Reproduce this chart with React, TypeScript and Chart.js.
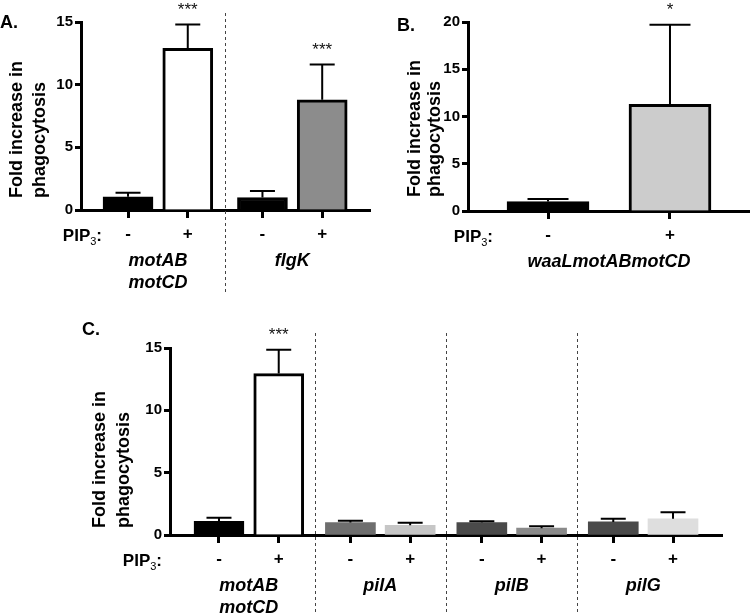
import React, { useEffect, useRef } from 'react';
import { Chart, registerables } from 'chart.js';

Chart.register(...registerables);

const FONT = '"Liberation Sans", Arial, Helvetica, sans-serif';

// PIP3 treatment per bar within each strain group
const SIGNS = ['-', '+'];

// Panel A
const A_GENES = [['motAB', 'motCD'], ['flgK']];
const A_MEANS = [1.05, 12.9, 1.0, 8.8];
const A_SEM = [0.33, 1.9, 0.52, 2.8];
const A_FILLS = ['#000000', '#ffffff', '#000000', '#8c8c8c'];
const A_BORDERS = [3, 3, 3, 3];
const A_STARS = ['', '***', '', '***'];
const A_Y_MAX = 15;

// Panel B
const B_GENES = [['waaLmotABmotCD']];
const B_MEANS = [1.0, 11.3];
const B_SEM = [0.27, 8.4];
const B_FILLS = ['#000000', '#cccccc'];
const B_BORDERS = [3, 3];
const B_STARS = ['', '*'];
const B_Y_MAX = 20;

// Panel C
const C_GENES = [['motAB', 'motCD'], ['pilA'], ['pilB'], ['pilG']];
const C_MEANS = [1.1, 12.95, 1.0, 0.78, 1.0, 0.55, 1.05, 1.3];
const C_SEM = [0.28, 1.9, 0.15, 0.2, 0.1, 0.15, 0.25, 0.52];
const C_FILLS = ['#000000', '#ffffff', '#6e6e6e', '#c6c6c6', '#4a4a4a', '#8a8a8a', '#4a4a4a', '#dedede'];
const C_BORDERS = [3, 3, 0, 0, 0, 0, 0, 0];
const C_STARS = ['', '***', '', '', '', '', '', ''];
const C_Y_MAX = 15;

const Y_STEP = 5;
const Y_TITLE = ['Fold increase in', 'phagocytosis'];

type PanelCfg = {
  letter: string;
  genes: string[][];
  means: number[];
  sem: number[];
  fills: string[];
  borders: number[];
  stars: string[];
  yMax: number;
  groupStep: number;
  xMin: number;
  xMax: number;
  barThickness: number;
  left: number;
  top: number;
  w: number;
  h: number;
  pad: { top: number; right: number };
  yWidth: number;
  xHeight: number;
  letterX: number;
  letterY: number;
  titleX: number[];
  titleBottom: number;
  pipRight: number;
  dividerTop: number;
  dividerBottom: number;
};

const PANELS: PanelCfg[] = [
  {
    letter: 'A.', genes: A_GENES, means: A_MEANS, sem: A_SEM, fills: A_FILLS, borders: A_BORDERS,
    stars: A_STARS, yMax: A_Y_MAX, groupStep: 2.25, xMin: -0.787, xMax: 4.05, barThickness: 50,
    left: 0, top: 0, w: 375, h: 300, pad: { top: 22, right: 5 }, yWidth: 81, xHeight: 90,
    letterX: 0, letterY: 23, titleX: [17, 40], titleBottom: 198, pipRight: 102, dividerTop: 13, dividerBottom: 292,
  },
  {
    letter: 'B.', genes: B_GENES, means: B_MEANS, sem: B_SEM, fills: B_FILLS, borders: B_BORDERS,
    stars: B_STARS, yMax: B_Y_MAX, groupStep: 2.2, xMin: -0.656, xMax: 1.656, barThickness: 82,
    left: 375, top: 0, w: 375, h: 300, pad: { top: 22, right: 0 }, yWidth: 93, xHeight: 89,
    letterX: 22, letterY: 26, titleX: [40, 60], titleBottom: 197, pipRight: 118, dividerTop: 13, dividerBottom: 292,
  },
  {
    letter: 'C.', genes: C_GENES, means: C_MEANS, sem: C_SEM, fills: C_FILLS, borders: C_BORDERS,
    stars: C_STARS, yMax: C_Y_MAX, groupStep: 2.2, xMin: -0.82, xMax: 8.42, barThickness: 50,
    left: 0, top: 300, w: 750, h: 315, pad: { top: 48, right: 28 }, yWidth: 170, xHeight: 80,
    letterX: 82, letterY: 30, titleX: [100, 124], titleBottom: 228, pipRight: 162, dividerTop: 33, dividerBottom: 315,
  },
];

function Panel({ cfg }: { cfg: PanelCfg }) {
  const ref = useRef<HTMLCanvasElement>(null);

  useEffect(() => {
    const positions: number[] = [];
    const signLabels: string[] = [];
    cfg.genes.forEach((_, gi) => {
      SIGNS.forEach((s, si) => {
        positions.push(gi * cfg.groupStep + si);
        signLabels.push(s);
      });
    });
    const points = cfg.means.map((m, i) => ({ x: positions[i], y: m }));

    const annot = {
      id: 'annot',
      afterDatasetsDraw(chart: any) {
        const ctx = chart.ctx;
        const y = chart.scales.y;
        const meta = chart.getDatasetMeta(0);
        ctx.save();
        meta.data.forEach((el: any, i: number) => {
          const p = el.getProps(['x', 'y', 'width'], true);
          const top = y.getPixelForValue(cfg.means[i] + cfg.sem[i]);
          ctx.strokeStyle = '#000';
          ctx.lineWidth = 2;
          ctx.beginPath();
          ctx.moveTo(p.x, p.y);
          ctx.lineTo(p.x, top);
          ctx.moveTo(p.x - p.width / 4, top);
          ctx.lineTo(p.x + p.width / 4, top);
          ctx.stroke();
          if (cfg.stars[i]) {
            ctx.fillStyle = '#111';
            ctx.font = `17px ${FONT}`;
            ctx.textAlign = 'center';
            ctx.textBaseline = 'alphabetic';
            ctx.fillText(cfg.stars[i], p.x, top - 10);
          }
        });
        ctx.restore();
      },
      afterDraw(chart: any) {
        const ctx = chart.ctx;
        const area = chart.chartArea;
        const xs = chart.scales.x;
        ctx.save();
        ctx.fillStyle = '#000';

        // panel letter
        ctx.font = `bold 18px ${FONT}`;
        ctx.textAlign = 'left';
        ctx.textBaseline = 'middle';
        ctx.fillText(cfg.letter, cfg.letterX, cfg.letterY);

        // y title
        ctx.font = `bold 18px ${FONT}`;
        Y_TITLE.forEach((line, li) => {
          ctx.save();
          ctx.translate(cfg.titleX[li], cfg.titleBottom);
          ctx.rotate(-Math.PI / 2);
          ctx.textAlign = 'left';
          ctx.textBaseline = 'middle';
          ctx.fillText(line, 0, 0);
          ctx.restore();
        });

        // PIP3:
        const rowY = area.bottom + 25;
        ctx.textBaseline = 'alphabetic';
        const base = rowY + 6;
        ctx.font = `bold 17px ${FONT}`;
        const w1 = ctx.measureText('PIP').width;
        const w3 = ctx.measureText(':').width;
        ctx.font = `11px ${FONT}`;
        const w2 = ctx.measureText('3').width;
        const x0 = cfg.pipRight - (w1 + w2 + w3);
        ctx.textAlign = 'left';
        ctx.font = `bold 17px ${FONT}`;
        ctx.fillText('PIP', x0, base);
        ctx.font = `11px ${FONT}`;
        ctx.fillText('3', x0 + w1, base + 4);
        ctx.font = `bold 17px ${FONT}`;
        ctx.fillText(':', x0 + w1 + w2, base);

        // gene names
        ctx.font = `italic bold 18px ${FONT}`;
        ctx.textAlign = 'center';
        ctx.textBaseline = 'middle';
        cfg.genes.forEach((lines, gi) => {
          const a = xs.getPixelForValue(positions[gi * 2]);
          const b = xs.getPixelForValue(positions[gi * 2 + 1]);
          lines.forEach((ln, li) => {
            ctx.fillText(ln, (a + b) / 2, area.bottom + 51 + li * 22);
          });
        });

        // dividers between groups
        ctx.strokeStyle = '#444';
        ctx.lineWidth = 1;
        ctx.setLineDash([3, 3]);
        for (let gi = 0; gi < cfg.genes.length - 1; gi++) {
          const a = xs.getPixelForValue(positions[gi * 2 + 1]);
          const b = xs.getPixelForValue(positions[gi * 2 + 2]);
          const dx = Math.round((a + b) / 2) + 0.5;
          ctx.beginPath();
          ctx.moveTo(dx, cfg.dividerTop);
          ctx.lineTo(dx, cfg.dividerBottom);
          ctx.stroke();
        }
        ctx.restore();
      },
    };

    const chart = new Chart(ref.current as HTMLCanvasElement, {
      type: 'bar',
      data: {
        datasets: [
          {
            data: points as any,
            backgroundColor: cfg.fills,
            borderColor: '#000',
            borderWidth: cfg.borders,
            barThickness: cfg.barThickness,
          },
        ],
      },
      options: {
        responsive: false,
        maintainAspectRatio: false,
        animation: false,
        devicePixelRatio: 1,
        layout: { padding: { top: cfg.pad.top, right: cfg.pad.right, left: 0, bottom: 0 } },
        plugins: { legend: { display: false }, tooltip: { enabled: false } },
        scales: {
          x: {
            type: 'linear',
            min: cfg.xMin,
            max: cfg.xMax,
            offset: false,
            grid: {
              display: true,
              drawOnChartArea: false,
              drawTicks: true,
              tickLength: 8,
              tickWidth: 3,
              tickColor: '#000',
              offset: false,
            },
            border: { display: true, color: '#000', width: 3 },
            ticks: {
              autoSkip: false,
              maxRotation: 0,
              padding: 6,
              color: '#000',
              font: { family: FONT, size: 17, weight: 'bold' },
              callback: (_v: any, i: number) => signLabels[i],
            },
            afterBuildTicks: (s: any) => {
              s.ticks = positions.map((v) => ({ value: v }));
            },
            afterFit: (s: any) => {
              s.height = cfg.xHeight;
            },
          } as any,
          y: {
            min: 0,
            max: cfg.yMax,
            grid: {
              display: true,
              drawOnChartArea: false,
              drawTicks: true,
              tickLength: 6,
              tickWidth: 3,
              tickColor: '#000',
            },
            border: { display: true, color: '#000', width: 3 },
            ticks: {
              stepSize: Y_STEP,
              padding: 2,
              color: '#000',
              font: { family: FONT, size: 15, weight: 'bold' },
            },
            afterFit: (s: any) => {
              s.width = cfg.yWidth;
            },
          } as any,
        },
      },
      plugins: [annot],
    });
    return () => chart.destroy();
  }, [cfg]);

  return (
    <canvas
      ref={ref}
      width={cfg.w}
      height={cfg.h}
      style={{ position: 'absolute', left: cfg.left, top: cfg.top, width: cfg.w, height: cfg.h }}
    />
  );
}

export default function App() {
  return (
    <div style={{ position: 'absolute', left: 0, top: 0, width: 750, height: 615, background: '#fff', overflow: 'hidden' }}>
      {PANELS.map((p) => (
        <Panel key={p.letter} cfg={p} />
      ))}
    </div>
  );
}
